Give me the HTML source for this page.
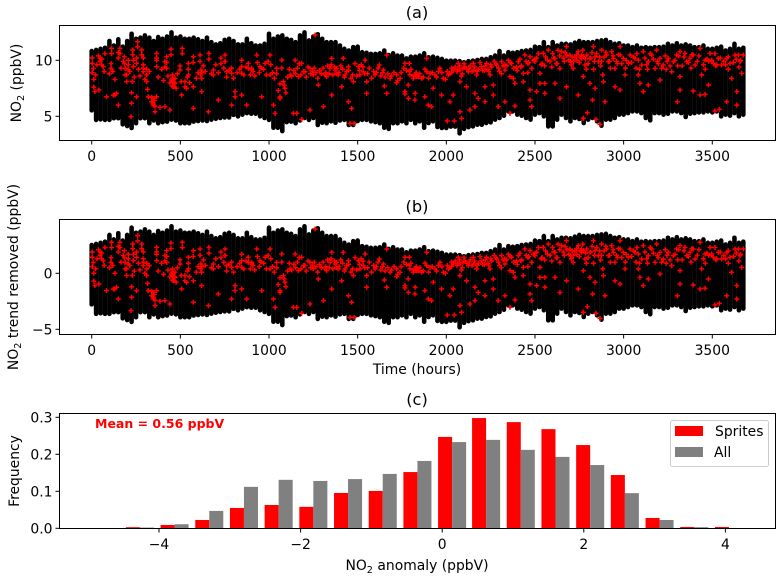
<!DOCTYPE html>
<html lang="en">
<head>
<meta charset="utf-8">
<title>NO2 time series and anomaly histogram</title>
<style>
html,body{margin:0;padding:0;background:#fff;}
svg{display:block;}
text{font-family:"DejaVu Sans","Liberation Sans",sans-serif;fill:#000;font-size:13.9px;}
.title{font-size:16.2px;text-anchor:middle;}
.mid{text-anchor:middle;}
.end{text-anchor:end;}
</style>
</head>
<body>
<svg id="chart" width="784" height="580" viewBox="0 0 784 580" xmlns="http://www.w3.org/2000/svg">
  <rect x="0" y="0" width="784" height="580" fill="#fff"/>
  <g id="bandA"></g>
  <g id="redA"></g>
  <g id="bandB"></g>
  <g id="redB"></g>
  <g id="bars"></g>
  <g id="ticks"></g>

  <rect x="59.5" y="25.5" width="716" height="115" fill="none" stroke="#000" stroke-width="1"/>
  <rect x="59.5" y="219.5" width="716" height="115" fill="none" stroke="#000" stroke-width="1"/>
  <rect x="59.5" y="413.5" width="716" height="115" fill="none" stroke="#000" stroke-width="1"/>

  <text class="title" x="417" y="18">(a)</text>
  <text class="title" x="417" y="212">(b)</text>
  <text class="title" x="417" y="405">(c)</text>

  <text class="mid" transform="translate(21,83) rotate(-90)">NO<tspan font-size="9.7" dy="3">2</tspan><tspan dy="-3"> (ppbV)</tspan></text>
  <text class="mid" transform="translate(18,277) rotate(-90)">NO<tspan font-size="9.7" dy="3">2</tspan><tspan dy="-3"> trend removed (ppbV)</tspan></text>
  <text class="mid" transform="translate(19,471) rotate(-90)">Frequency</text>
  <text class="mid" x="417" y="374">Time (hours)</text>
  <text class="mid" x="417" y="570">NO<tspan font-size="9.7" dy="3">2</tspan><tspan dy="-3"> anomaly (ppbV)</tspan></text>

  <text x="95" y="428" font-size="12.5" font-weight="bold" style="fill:#f00;font-size:12.5px;font-weight:bold">Mean = 0.56 ppbV</text>

  <g>
    <rect x="670.5" y="420.5" width="98" height="46" rx="2" fill="#fff" fill-opacity="0.8" stroke="#ccc" stroke-width="1"/>
    <rect x="675" y="426" width="28" height="10" fill="#f00"/>
    <text x="715" y="436">Sprites</text>
    <rect x="675" y="447" width="28" height="10" fill="#808080"/>
    <text x="714" y="457">All</text>
  </g>
</svg>
<script>
// NO2 envelope of the hourly series, one value per 25-hour step from hour 0
const sampleStepHours = 25;
const no2Upper = [
11.0,11.1,11.2,11.3,11.9,11.5,12.05,11.4,11.9,12.55,12.1,12.2,12.4,12.2,11.9,12.25,12.1,12.3,12.67,12.2,12.3,12.1,12.1,12.2,12.05,11.9,12.2,11.8,11.6,11.7,12.0,12.1,11.9,11.6,11.6,12.1,11.7,
11.5,11.5,11.65,12.55,12.1,12.3,12.4,12.1,12.0,11.8,12.4,12.67,11.95,12.3,12.5,12.1,11.8,11.8,11.8,11.5,11.2,11.05,11.35,11.4,10.9,10.85,10.75,10.75,10.8,11.05,10.65,10.8,10.6,10.6,10.35,10.5,10.5,
10.6,10.8,10.45,10.5,10.4,10.3,10.15,10.15,10.15,10.1,10.0,10.1,10.15,10.2,10.3,10.3,10.45,10.6,11.0,10.6,10.9,10.85,10.9,11.0,11.05,11.1,11.4,11.35,11.8,11.35,11.8,11.5,11.65,11.65,11.6,11.75,11.9,
11.8,11.8,11.8,11.9,11.95,12.0,11.8,11.65,11.7,11.5,11.5,11.35,11.5,11.3,11.35,11.3,11.35,11.35,11.4,11.65,11.5,11.7,11.5,11.6,11.5,11.35,11.35,11.5,11.2,11.2,11.3,11.4,11.05,11.2,11.65,11.2,11.3];
const no2Lower = [
5.35,4.5,4.55,4.5,4.5,4.65,4.65,4.1,3.95,3.78,4.2,4.65,4.65,4.2,4.45,4.2,4.3,4.35,4.52,4.45,4.2,4.2,4.2,4.35,4.4,4.45,4.4,4.52,4.6,4.67,4.72,4.72,4.95,4.82,4.97,5.1,5.05,
5.05,4.82,4.67,4.5,3.8,3.8,3.5,4.3,4.35,4.2,4.45,4.67,4.5,4.67,4.05,4.25,4.2,4.37,4.25,4.45,4.5,4.05,4.05,4.4,4.5,4.5,4.37,4.3,4.2,3.8,3.7,4.2,4.2,4.37,4.2,4.5,4.2,
4.37,3.8,4.22,4.37,3.87,3.78,3.78,3.9,3.9,3.3,3.7,3.85,3.92,4.07,4.07,4.22,4.28,4.52,4.67,4.87,5.26,5.26,4.97,4.87,4.67,4.52,4.97,5.11,4.82,3.92,3.92,4.52,4.97,4.67,4.37,4.67,4.58,
4.22,4.52,4.67,4.37,3.98,4.52,4.52,4.67,4.97,4.97,5.11,5.26,5.26,5.11,4.67,4.46,5.11,5.11,4.97,5.05,5.26,5.26,5.11,4.76,5.05,5.11,5.17,5.17,5.26,5.17,5.26,4.82,4.97,4.88,5.11,4.82,4.97];
// Level subtracted in panel (b)
const trendLevel = 8.3;

// Sprite-coincident samples: hour and NO2 value (scattered points)
const spriteHours = [
3,9,18,22,47,56,65,41,84,112,109,122,150,150,159,184,188,206,197,231,235,229,225,221,259,253,253,291,282,310,319,347,357,366,366,366,413,423,423,447,455,470,441,498,511,507,545,545,535,573,573,573,611,616,620,620,661,658,686,714,729,752,761,789,789,808,846,846,874,883,902,206,310,455,460,451,366,347,338,140,131,291,291,413,526,752,846,883,
902,931,949,978,1006,1006,959,1025,1034,1062,1072,1081,1090,1119,1147,1137,1156,1184,1184,1166,1203,1231,1231,1260,1250,1278,1307,1316,1344,1354,1354,1372,1391,1419,1448,1410,1448,1466,1476,1504,1542,1532,1551,1551,1598,1622,1645,1664,1683,1720,1739,1767,1792,1795,1786,1814,1833,1824,1767,1062,1043,1325,1382,1429,1513,1457,1480,1664,
1823,1842,1861,1889,1889,1908,1936,1964,1983,2011,2039,2067,2077,2105,2124,2152,2171,2199,2227,2246,2284,2312,2331,2368,2378,2406,2434,2472,2481,2528,2547,2575,2613,2641,2678,2716,2716,2744,2763,2697,2650,2500,2443,1917,1898,1823,1879,1926,1973,2020,2039,2077,2086,2133,2161,2180,2218,2265,2293,2331,2387,2472,2481,2556,2556,2509,2641,2678,2744,2772,2359,2005,2045,2077,2114,2161,2218,2265,2359,2387,2434,2472,2528,2613,
2763,2782,2810,2829,2839,2773,2810,2839,2882,2886,2876,2914,2933,2951,2980,2980,3027,3008,2951,2980,3083,3083,3111,3139,3177,3186,3205,3205,3252,3271,3299,3318,3346,3374,3403,3431,3440,3459,3487,3506,3534,3581,3609,3628,3656,3666,3638,3638,3581,3515,3540,2867,2795,2895,2825,3318,3111,3139,3393,3431,3459,3478,3092,3303,2773,2844,2773,2792,2857,2904,2942,2998,3036,3064,3102,3158,3224,3280,3318,3356,3393,3497,3553,3600,3647,3675];
const spriteNo2 = [
9.73,9.28,7.2,8.7,10.2,9.6,9.43,7.35,6.75,11.07,9.28,6.9,6.0,10.2,11.07,10.32,9.28,9.13,8.1,10.92,9.43,8.1,6.16,4.97,11.66,9.73,6.75,10.2,10.92,8.7,6.75,6.16,5.41,10.62,9.43,6.75,5.86,10.32,9.28,11.0,8.1,7.94,5.56,9.13,11.07,6.9,9.73,8.7,7.5,10.32,7.64,5.71,10.47,9.13,8.39,7.2,10.62,5.41,9.13,6.45,10.2,10.47,8.98,8.83,6.0,6.75,9.43,6.9,6.0,9.73,9.13,9.6,8.1,8.7,7.64,8.24,10.0,6.0,6.3,7.05,6.9,9.6,8.98,9.88,7.64,9.88,8.83,9.28,
9.28,10.47,9.43,9.73,10.47,8.7,6.75,6.0,5.26,6.75,10.02,8.09,7.5,8.7,10.02,5.26,5.26,4.73,9.73,8.54,8.98,9.28,5.56,12.26,8.7,7.79,5.86,8.7,9.28,6.9,10.17,9.13,8.7,10.17,9.43,7.64,6.3,5.71,8.09,9.43,10.02,8.98,8.09,7.05,8.7,9.58,9.13,7.05,8.39,8.7,8.39,9.73,9.73,8.7,6.6,8.39,8.54,7.05,7.2,6.6,9.28,8.54,9.28,8.7,8.7,4.37,4.37,10.47,
8.7,8.54,8.39,10.17,8.98,8.83,8.7,9.28,8.39,8.7,9.13,9.73,9.13,9.43,8.98,9.73,8.7,9.43,9.73,8.7,9.58,9.88,9.13,9.73,8.39,9.88,8.83,10.32,9.28,8.83,10.62,10.92,10.17,9.28,11.22,9.88,9.28,10.77,10.17,10.47,10.77,9.88,10.47,5.86,6.0,6.45,6.75,7.5,6.9,6.3,6.9,5.41,4.82,5.56,5.86,6.6,6.3,6.9,5.86,6.3,5.92,6.45,5.86,7.94,7.05,7.2,6.6,7.64,6.9,4.82,5.26,4.58,4.58,8.09,7.64,7.05,7.64,7.79,8.54,7.94,8.09,7.35,7.94,7.94,
10.47,9.58,10.17,11.22,10.32,8.54,7.94,7.5,8.7,8.09,10.92,9.88,10.77,9.28,10.47,11.22,9.73,8.7,7.64,7.35,8.7,10.02,10.77,9.88,9.28,10.92,8.24,10.17,10.17,8.98,10.47,8.54,10.62,10.17,9.58,11.07,8.7,10.02,10.62,9.73,10.17,10.17,8.39,10.47,9.88,8.83,7.2,6.0,6.3,5.47,5.62,4.28,5.32,6.3,6.45,7.35,7.2,7.79,7.26,6.9,6.96,7.79,7.94,6.3,4.82,4.73,10.32,10.47,9.88,10.47,10.17,10.17,10.47,10.17,9.58,10.47,9.58,9.88,10.77,9.88,10.47,10.02,9.58,9.73,10.47,10.47];

// Sprite-coincident samples in the dense clusters
const clusterHours = [
3,3,12,12,30,38,47,56,70,75,
100,109,112,119,131,150,159,165,178,184,
188,197,206,215,225,231,235,240,253,259,
263,272,282,291,300,310,315,325,338,347,
352,357,366,375,385,395,405,413,423,430,
441,447,455,455,460,465,470,476,483,498,
505,511,526,540,545,552,573,590,600,611,
616,620,630,640,661,675,686,700,715,729,
745,752,761,775,789,800,808,820,835,846,
858,870,883,895,
910,920,935,945,955,970,985,995,1010,1020,
1030,1043,1052,1062,1072,1085,1095,1105,1115,1128,
1140,1150,1160,1170,1180,1195,1210,1220,1235,1245,
1255,1265,1275,1285,1295,1305,1320,1330,1340,1350,
1360,1370,1380,1395,1405,1415,1425,1438,1450,1462,
1472,1485,1495,1510,1520,1530,1540,1555,1565,1578,
1590,1605,1615,1630,1640,1655,1670,1690,1705,1725,
1745,1760,1775,1785,1800,1815,1792,1767,1720,1650,
1830,1850,1870,1880,1900,1920,1945,1955,1975,1995,
2005,2020,2030,2050,2060,2075,2090,2100,2115,2135,
2145,2160,2180,2190,2205,2220,2235,2255,2270,2280,
2300,2320,2340,2350,2360,2395,2415,2425,2450,2460,
2490,2510,2520,2540,2560,2585,2600,2620,2630,2660,
2670,2690,2705,2725,2735,2755,2065,2095,2130,2175,
2215,2250,2295,2330,2380,2420,2465,2500,2535,2570,
2605,2640,2680,2710,2750,2030,2085,2155,2240,2310,
2400,2460,2555,2595,2625,2665,2700,2735,
2770,2785,2800,2815,2822,2835,2848,2865,2870,2890,
2900,2920,2940,2960,2970,2990,3015,3045,3055,3075,
3090,3120,3130,3150,3168,3195,3215,3235,3245,3262,
3290,3310,3330,3340,3365,3385,3415,3425,3450,3470,
3480,3515,3525,3545,3565,3575,3590,3620,3635,3660,
2790,2830,2875,2925,2965,3010,3070,3135,3190,3240,
3305,3380,3460,3520,3590,3650];
const clusterNo2 = [
10.2,8.9,8.3,7.6,9.6,10.4,9.9,10.1,9.0,10.6,
8.8,9.7,10.6,9.0,8.3,10.7,10.6,9.3,9.9,9.7,
8.7,8.7,10.0,9.0,7.1,10.5,10.0,8.5,10.2,11.2,
9.2,8.6,10.5,9.3,8.3,9.2,7.4,9.0,6.7,6.6,
6.4,5.9,10.2,8.5,5.8,9.2,8.2,9.4,9.8,8.6,
8.0,10.5,8.4,7.7,8.3,8.0,8.4,7.5,8.8,9.5,
8.1,10.6,8.1,8.5,9.2,8.0,9.8,8.4,8.9,9.9,
8.7,8.9,9.5,9.0,10.1,8.8,8.7,9.6,8.9,9.7,
9.3,9.9,8.5,9.1,9.3,8.4,7.2,8.9,9.2,10.0,
8.7,9.4,9.3,8.7,
9.0,8.6,9.8,8.9,9.3,9.2,8.7,9.9,9.6,8.9,
8.4,8.8,7.3,7.9,9.3,7.8,7.1,8.5,9.2,8.6,
9.1,8.8,9.3,9.7,8.7,9.0,8.5,9.4,8.8,9.0,
9.3,8.9,8.4,9.1,8.8,9.3,8.9,9.5,8.8,9.6,
8.7,9.4,8.8,8.9,9.5,9.2,8.5,9.0,9.1,8.4,
8.7,9.7,8.6,9.1,9.6,9.4,8.8,8.8,9.3,8.4,
9.0,8.9,9.3,8.6,8.9,8.5,8.8,8.6,8.9,8.2,
8.9,9.3,9.1,7.8,9.2,8.6,9.0,7.0,8.0,7.7,
8.9,8.8,8.5,9.2,8.4,8.9,8.5,9.0,8.9,8.3,
9.0,8.8,9.3,9.4,9.0,9.5,8.8,9.7,9.2,9.5,
9.0,9.4,9.2,9.8,9.1,9.5,9.2,9.4,9.9,9.7,
9.0,9.5,9.5,10.0,9.8,9.4,10.1,9.5,9.9,9.7,
10.0,10.2,10.6,9.7,10.3,9.9,10.6,9.7,10.9,10.2,
10.7,10.0,9.6,10.3,10.5,10.3,9.2,9.3,9.3,9.0,
9.1,9.6,9.3,9.6,9.3,9.4,9.8,10.1,9.6,10.0,
10.2,10.4,10.4,10.3,9.8,8.9,8.6,9.1,9.0,8.8,
9.1,8.9,9.5,9.4,9.7,9.9,9.9,10.0,
10.9,10.1,9.7,10.2,10.7,9.9,10.6,10.3,9.5,10.3,
10.7,9.9,10.4,9.9,10.5,9.7,10.0,9.8,10.3,10.6,
9.2,10.2,9.6,10.6,10.1,9.7,9.3,10.4,9.9,9.5,
10.0,10.4,9.5,10.3,9.8,10.5,9.9,10.4,9.6,10.1,
9.9,10.6,9.6,10.2,9.9,9.6,10.3,9.8,10.1,10.0,
9.2,9.2,9.9,9.3,9.7,9.3,9.3,9.2,9.9,9.2,
9.5,9.3,9.2,9.5,9.2,9.4];

// Histogram
const anomalyBins = [-4.27,-3.78,-3.29,-2.80,-2.31,-1.82,-1.33,-0.84,-0.35,0.14,0.62,1.11,1.60,2.09,2.58,3.07,3.56,4.05];
const spritesFreq = [0.003,0.009,0.0225,0.055,0.063,0.058,0.0955,0.101,0.152,0.247,0.298,0.287,0.268,0.225,0.144,0.028,0.0036,0.0036];
const allFreq = [0.002,0.011,0.047,0.112,0.131,0.128,0.133,0.147,0.182,0.233,0.239,0.212,0.193,0.171,0.095,0.0225,0.003,0.0005];

// Tick labels
const timeTicks = [0,500,1000,1500,2000,2500,3000,3500];
const no2Ticks = [5,10];
const trendTicks = [-5,0];
const anomalyTicks = [-4,-2,0,2,4];
const freqTicks = [0,0.1,0.2,0.3];

// Axis functions
function xTime(h){return 91.7+0.17731*h;}
function yNo2(v){return 60.3+(10-v)*11.2;}
function yTrend(v){return 273.3-v*11.2;}
function xAnomaly(v){return 442.2+70.8*v;}
function yFreq(v){return 528.3-370*v;}

const NS='http://www.w3.org/2000/svg';
function fmt(n){return String(n).replace('-','\u2212');}

function drawBand(group,yFn,offset,name){
  for(let i=0;i<no2Upper.length;i++){
    const x=xTime(i*sampleStepHours);
    const l=document.createElementNS(NS,'line');
    
    
    l.setAttribute('x1',x.toFixed(2));
    l.setAttribute('x2',x.toFixed(2));
    l.setAttribute('y1',(yFn(no2Upper[i]-offset)+2).toFixed(2));
    l.setAttribute('y2',(yFn(no2Lower[i]-offset)-2).toFixed(2));
    l.setAttribute('stroke','#000');
    l.setAttribute('stroke-width','4.6');
    l.setAttribute('stroke-linecap','round');
    group.appendChild(l);
  }
}
function drawSprites(group,yFn,offset,name,hours,values){
  const n=Math.min(hours.length,values.length);
  for(let i=0;i<n;i++){
    const x=xTime(hours[i]), y=yFn(values[i]-offset);
    const p=document.createElementNS(NS,'path');
    
    
    p.setAttribute('d','M'+(x-2.5).toFixed(2)+' '+y.toFixed(2)+'H'+(x+2.5).toFixed(2)+'M'+x.toFixed(2)+' '+(y-2.5).toFixed(2)+'V'+(y+2.5).toFixed(2));
    p.setAttribute('stroke','#f00');
    p.setAttribute('stroke-width','1.5');
    p.setAttribute('fill','none');
    group.appendChild(p);
  }
}
drawBand(document.getElementById('bandA'),yNo2,0,'no2-range-mark');
drawSprites(document.getElementById('redA'),yNo2,0,'sprite-point',spriteHours,spriteNo2);
drawSprites(document.getElementById('redA'),yNo2,0,'sprite-point',clusterHours,clusterNo2);
drawBand(document.getElementById('bandB'),yTrend,trendLevel,'detrended-range-mark');
drawSprites(document.getElementById('redB'),yTrend,trendLevel,'detrended-sprite-point',spriteHours,spriteNo2);
drawSprites(document.getElementById('redB'),yTrend,trendLevel,'detrended-sprite-point',clusterHours,clusterNo2);

const barGroup=document.getElementById('bars');
const barWidth=0.198;
function drawBar(center,freq,side,color,name){
  const x0=xAnomaly(side<0?center-barWidth:center);
  const w=barWidth*70.8;
  const r=document.createElementNS(NS,'rect');
  
  
  r.setAttribute('x',x0.toFixed(2));
  r.setAttribute('y',yFreq(freq).toFixed(2));
  r.setAttribute('width',w.toFixed(2));
  r.setAttribute('height',(yFreq(0)-yFreq(freq)).toFixed(2));
  r.setAttribute('fill',color);
  barGroup.appendChild(r);
}
for(let i=0;i<anomalyBins.length;i++){
  drawBar(anomalyBins[i],spritesFreq[i],-1,'#f00','bar-sprites');
  drawBar(anomalyBins[i],allFreq[i],1,'#808080','bar-all');
}

const tickGroup=document.getElementById('ticks');
function xTick(x,bottom,label){
  const l=document.createElementNS(NS,'line');
  
  
  l.setAttribute('x1',x);l.setAttribute('x2',x);
  l.setAttribute('y1',bottom);l.setAttribute('y2',bottom+4);
  l.setAttribute('stroke','#000');l.setAttribute('stroke-width','1');
  tickGroup.appendChild(l);
  const t=document.createElementNS(NS,'text');
  
  
  t.setAttribute('class','mid');
  t.setAttribute('x',x);t.setAttribute('y',bottom+20.5);
  t.textContent=label;
  tickGroup.appendChild(t);
}
function yTick(y,label){
  const l=document.createElementNS(NS,'line');
  
  
  l.setAttribute('x1',55.5);l.setAttribute('x2',59.5);
  l.setAttribute('y1',y);l.setAttribute('y2',y);
  l.setAttribute('stroke','#000');l.setAttribute('stroke-width','1');
  tickGroup.appendChild(l);
  const t=document.createElementNS(NS,'text');
  
  
  t.setAttribute('class','end');
  t.setAttribute('x',52.5);t.setAttribute('y',y+5);
  t.textContent=label;
  tickGroup.appendChild(t);
}
timeTicks.forEach(function(h){xTick(xTime(h),140.5,fmt(h));xTick(xTime(h),334.5,fmt(h));});
anomalyTicks.forEach(function(v){xTick(xAnomaly(v),528.5,fmt(v));});
no2Ticks.forEach(function(v){yTick(yNo2(v),fmt(v));});
trendTicks.forEach(function(v){yTick(yTrend(v),fmt(v));});
freqTicks.forEach(function(v){yTick(yFreq(v),v.toFixed(1));});
</script>
</body>
</html>
